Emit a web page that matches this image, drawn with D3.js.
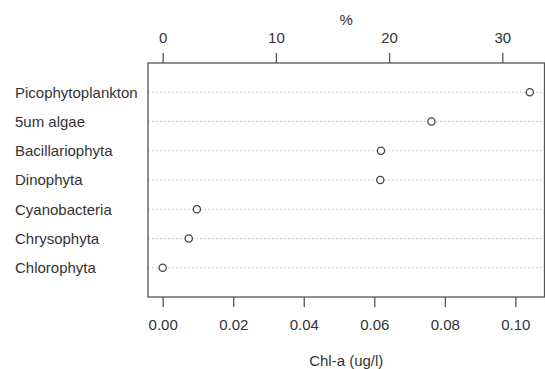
<html>
<head>
<script src="https://d3js.org/d3.v7.min.js"></script>
<style>
  body { margin: 0; background: #fff; }
  text { font-family: "Liberation Sans", Arial, Helvetica, sans-serif; fill: #333; }
</style>
</head>
<body>
<script>
// data (top row first)
var groups = ["Picophytoplankton", "5um algae", "Bacillariophyta", "Dinophyta", "Cyanobacteria", "Chrysophyta", "Chlorophyta"];
var chla = [0.1041, 0.0762, 0.0619, 0.0617, 0.0097, 0.0074, 0.0000];
var bottomTicks = [0, 0.02, 0.04, 0.06, 0.08, 0.10];
var topTicks = [0, 10, 20, 30];

var w = 545, h = 369;
var pL = 148, pR = 544.5, pT = 63, pB = 297; // plot box
var fs = 15;

var total = d3.sum(chla);
var lo = d3.min(chla), hi = d3.max(chla);
var pad = (hi - lo) * 0.04;

var x = d3.scaleLinear().domain([lo - pad, hi + pad]).range([pL, pR]);
var xp = d3.scaleLinear().domain([(lo - pad) / total * 100, (hi + pad) / total * 100]).range([pL, pR]);
// rows 1..n from bottom, ylim 0..n+1
var y = d3.scaleLinear().domain([0, groups.length + 1]).range([pB, pT]);

var svg = d3.select("body").append("svg").attr("width", w).attr("height", h);

// dotted guide lines
svg.selectAll("line.guide")
  .data(groups)
  .enter()
  .append("line")
  .attr("class", "guide")
  .attr("x1", pL).attr("x2", pR)
  .attr("y1", function(d, i){ return y(groups.length - i); })
  .attr("y2", function(d, i){ return y(groups.length - i); })
  .attr("stroke", "#bbb")
  .attr("stroke-width", 1)
  .attr("stroke-dasharray", "1.5,2.5");

// box
svg.append("rect")
  .attr("x", pL).attr("y", pT)
  .attr("width", pR - pL).attr("height", pB - pT)
  .attr("fill", "none").attr("stroke", "#555").attr("stroke-width", 1.3);

// points
svg.selectAll("circle")
  .data(chla)
  .enter()
  .append("circle")
  .attr("cx", function(d){ return x(d); })
  .attr("cy", function(d, i){ return y(groups.length - i); })
  .attr("r", 3.6)
  .attr("fill", "#fff")
  .attr("stroke", "#444")
  .attr("stroke-width", 1.3);

// group labels
svg.selectAll("text.lab")
  .data(groups)
  .enter()
  .append("text")
  .attr("class", "lab")
  .attr("x", 15)
  .attr("y", function(d, i){ return y(groups.length - i); })
  .attr("dy", "0.36em")
  .style("font-size", fs + "px")
  .text(function(d){ return d; });

// bottom axis
var xAxis = d3.axisBottom(x).tickValues(bottomTicks).tickFormat(d3.format(".2f")).tickSize(10).tickPadding(12);
var gx = svg.append("g").attr("transform", "translate(0," + pB + ")").call(xAxis);
gx.select(".domain").remove();
gx.selectAll("line").attr("stroke", "#555").attr("stroke-width", 1.3);
gx.selectAll("text").style("font-size", fs + "px");
gx.attr("font-family", null);

// top axis
var tAxis = d3.axisTop(xp).tickValues(topTicks).tickSize(10).tickPadding(10);
var gt = svg.append("g").attr("transform", "translate(0," + pT + ")").call(tAxis);
gt.select(".domain").remove();
gt.selectAll("line").attr("stroke", "#555").attr("stroke-width", 1.3);
gt.selectAll("text").style("font-size", fs + "px");
gt.attr("font-family", null);

// axis titles
svg.append("text")
  .attr("x", (pL + pR) / 2).attr("y", 366)
  .attr("text-anchor", "middle")
  .style("font-size", fs + "px")
  .text("Chl-a (ug/l)");

svg.append("text")
  .attr("x", (pL + pR) / 2).attr("y", 25)
  .attr("text-anchor", "middle")
  .style("font-size", fs + "px")
  .text("%");
</script>
</body>
</html>
